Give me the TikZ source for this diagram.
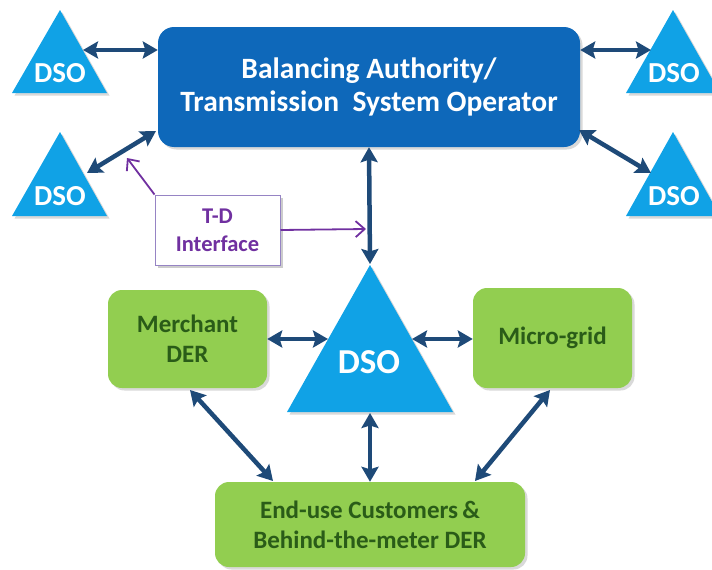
\documentclass[tikz,border=0pt]{standalone}
\usepackage{fontspec}
\setmainfont{Carlito}
\usetikzlibrary{arrows.meta,shadows}
\definecolor{dsoblue}{RGB}{16,162,230}
\definecolor{bablue}{RGB}{14,104,186}
\definecolor{navy}{RGB}{30,74,120}
\definecolor{dergreen}{RGB}{146,206,80}
\definecolor{dertext}{RGB}{42,92,24}
\definecolor{tdpurple}{RGB}{112,48,160}
\definecolor{tdborder}{RGB}{150,132,196}
\begin{document}
\begin{tikzpicture}[x=1pt,y=-1pt,
  shade/.style={drop shadow={opacity=0.3,shadow xshift=2.5pt,shadow yshift=-2.5pt}},
  dsolabel/.style={anchor=base,inner sep=0pt,text=white,font=\bfseries\fontsize{29}{34}\selectfont},
  babox/.style={shade,fill=bablue,rounded corners=16pt,minimum width=422pt,minimum height=120pt,
    text=white,align=center,font=\bfseries\fontsize{29.5}{33}\selectfont},
  derbox/.style={shade,fill=dergreen,rounded corners=14pt,inner sep=0pt,
    text=dertext,align=center,font=\bfseries\fontsize{25}{30}\selectfont},
  tdbox/.style={drop shadow={opacity=0.4,shadow xshift=3pt,shadow yshift=-3pt},fill=white,draw=tdborder,line width=1pt,minimum width=125pt,minimum height=70pt,
    inner sep=0pt,text=tdpurple,align=center,font=\bfseries\fontsize{22.5}{28}\selectfont},
  biarrow/.style={draw=navy,line width=4.5pt,
    {Stealth[length=15pt,width=17pt,inset=2.5pt]}-{Stealth[length=15pt,width=17pt,inset=2.5pt]}},
  tdarrow/.style={draw=tdpurple,line width=1.8pt,-{Straight Barb[length=9pt,width=16pt,line width=1.8pt]}}
]
\useasboundingbox (0,0) rectangle (712,570);

% triangles
\fill[dsoblue,shade] (12,93) -- (60,10) -- (107,93) -- cycle;
\fill[dsoblue,shade] (12,216) -- (60,132) -- (107,216) -- cycle;
\fill[dsoblue,shade] (626,93) -- (673,10) -- (720,93) -- cycle;
\fill[dsoblue,shade] (626,216) -- (673,132) -- (720,216) -- cycle;
\fill[dsoblue,shade] (287,412) -- (370,265) -- (453,412) -- cycle;

\node[dsolabel] (dso1) at (60,82) {DSO};
\node[dsolabel] (dso2) at (60,205) {DSO};
\node[dsolabel] (dso3) at (674,82) {DSO};
\node[dsolabel] (dso4) at (674,205) {DSO};
\node[dsolabel,font=\bfseries\fontsize{35}{40}\selectfont] (dsoc) at (369,373) {DSO};

% boxes
\node[babox] (ba) at (369,87) {Balancing Authority/\\Transmission\ \ System Operator};
\node[derbox,minimum width=159pt,minimum height=98pt] (mer) at (187.5,339) {Merchant\\DER};
\node[derbox,minimum width=159pt,minimum height=100pt] (mg) at (552.5,338) {Micro-grid};
\node[derbox,minimum width=310pt,minimum height=85pt] (eu) at (370,524.5) {End-use Customers\,\&\\Behind-the-meter DER};
\node[tdbox] (td) at (217.5,230) {T-D\\Interface};

% connector end points on triangles
\coordinate (d1e) at (83,50);
\coordinate (d2e) at (87,173);
\coordinate (ba2) at (156,131);
\coordinate (d3w) at (651,50);
\coordinate (ba4) at (579,130);
\coordinate (d4w) at (651,173);
\coordinate (dtop) at (370,264);
\coordinate (dleft) at (328,339);
\coordinate (dright) at (412,339);
\coordinate (dbot) at (370,413);
\coordinate (mers) at (190,390);
\coordinate (eul) at (273,481);
\coordinate (mgs) at (550,390);
\coordinate (eur) at (475,481);
\coordinate (tdtip) at (366,229);
\coordinate (tdtip2) at (127,158);

% navy arrows
\draw[biarrow] (d1e) -- (d1e -| ba.west);
\draw[biarrow] (d2e) -- (ba2);
\draw[biarrow] (d3w -| ba.east) -- (d3w);
\draw[biarrow] (ba4) -- (d4w);
\draw[biarrow] (ba.south) -- (dtop);
\draw[biarrow] (mer.east) -- (dleft);
\draw[biarrow] (dright) -- (dright -| mg.west);
\draw[biarrow] (dbot) -- (eu.north);
\draw[biarrow] (mers) -- (eul);
\draw[biarrow] (mgs) -- (eur);

% purple T-D arrows
\draw[tdarrow] (td.east) -- (tdtip);
\draw[tdarrow] (td.north west) -- (tdtip2);
\end{tikzpicture}
\end{document}
